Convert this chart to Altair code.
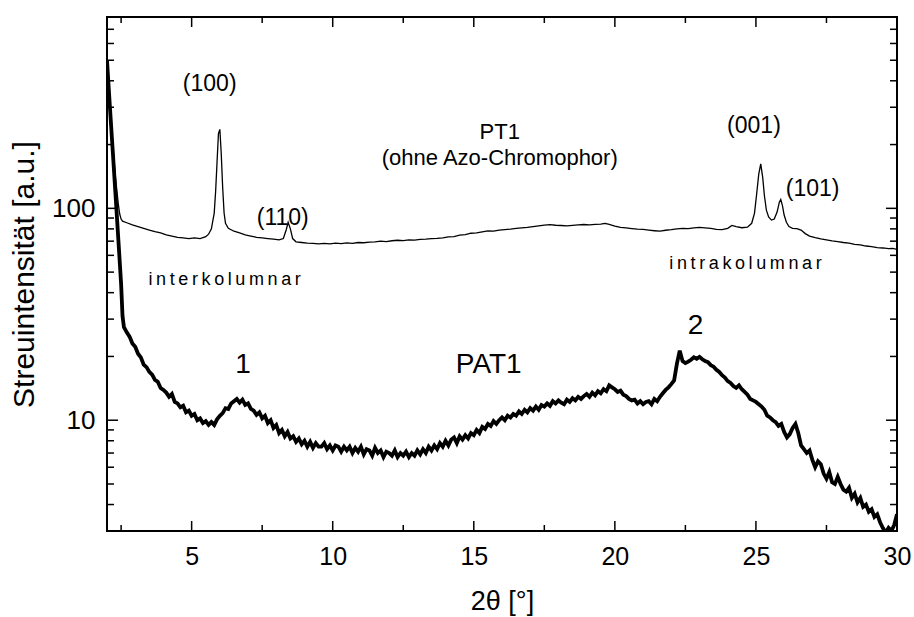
import altair as alt
import pandas as pd

# ---------------- data ----------------
# PAT1 (thick curve): steep head, then a regular 0.1 deg grid from 2.6 to 30.0
pat_head_x = [2.0, 2.1, 2.2, 2.3, 2.4, 2.5, 2.55]
pat_head_y = [500, 305, 190, 117, 72, 44, 31]
pat_grid_start = 2.6
pat_grid_step = 0.1
pat_grid_y = [
    27.5, 26.0, 24.8, 23.0, 22.2, 20.6, 19.8, 18.3, 17.8, 16.9,
    16.4, 15.5, 15.2, 14.2, 13.9, 13.5, 12.9, 13.3, 12.2, 12.0,
    11.5, 11.7, 10.9, 11.1, 10.5, 10.7, 10.0, 10.2, 9.7, 9.9,
    9.5, 9.8, 9.5, 10.1, 10.5, 10.8, 11.4, 11.3, 12.0, 12.3,
    12.6, 12.1, 12.5, 11.8, 12.0, 11.3, 11.1, 10.6, 10.9, 10.2,
    10.5, 9.7, 10.0, 9.2, 9.5, 8.7, 9.0, 8.4, 8.8, 8.2,
    8.4, 7.9, 8.2, 7.7, 8.0, 7.5, 7.9, 7.4, 7.8, 7.5,
    7.5, 7.8, 7.3, 7.6, 7.2, 7.6, 7.5, 7.1, 7.5, 7.2,
    7.5, 7.0, 7.4, 7.1, 7.5, 6.9, 7.3, 7.2, 6.8, 7.4,
    7.0, 7.2, 6.7, 7.1, 7.0, 6.8, 7.2, 6.7, 7.0, 6.8,
    7.1, 6.7, 7.0, 6.8, 7.2, 6.9, 7.3, 7.0, 7.5, 7.2,
    7.6, 7.3, 7.8, 7.5, 8.0, 7.6, 8.1, 8.3, 7.8, 8.4,
    8.1, 8.5, 8.2, 8.7, 8.5, 9.0, 8.7, 9.3, 9.1, 9.6,
    9.4, 9.9, 9.6, 10.0, 10.3, 10.0, 10.5, 10.3, 10.7, 10.5,
    11.0, 10.7, 11.2, 10.9, 11.4, 11.1, 11.6, 11.2, 11.8, 11.6,
    12.0, 11.7, 12.3, 12.0, 12.4, 12.1, 11.9, 12.5, 12.2, 12.7,
    12.4, 12.9, 12.6, 13.0, 13.3, 12.9, 13.5, 13.1, 13.7, 13.4,
    14.0, 13.7, 14.6, 14.3, 14.0, 13.6, 13.8, 13.2, 13.0, 12.6,
    12.4, 12.5, 12.0, 12.3, 11.9, 12.2, 12.3, 11.9, 12.6, 12.3,
    12.9, 13.4, 13.9, 14.3, 14.8, 15.4, 18.5, 21.3, 19.0, 18.6,
    18.9, 19.3, 19.8, 19.5, 19.9, 19.4, 19.0, 18.8, 18.2, 17.9,
    17.3, 16.9, 16.3, 15.9, 15.3, 15.0, 14.5, 14.2, 14.6, 14.0,
    13.6, 13.2, 12.6, 12.4, 12.2, 11.9, 11.6, 11.2, 10.5, 10.3,
    10.0, 9.8, 9.4, 9.6, 8.8, 8.3, 8.6, 9.2, 9.6, 8.7,
    7.6, 7.3, 7.0, 7.2, 6.5, 6.0, 6.4, 6.2, 5.6, 5.3,
    5.7, 5.1, 5.0, 5.4, 5.0, 4.7, 4.6, 4.8, 4.3, 4.5,
    4.1, 4.3, 3.9, 4.0, 3.7, 3.8, 3.5, 3.6, 3.3, 3.1,
    2.95, 3.1, 3.0, 3.2, 3.6,
]

# PT1 (thin curve)
pt1_x = [2.0, 2.1, 2.2, 2.3, 2.4, 2.45, 2.5, 2.55, 2.7, 2.9, 3.1, 3.3, 3.5, 3.7, 3.9,
         4.1, 4.3, 4.5, 4.7, 4.9, 5.1, 5.3, 5.5, 5.6, 5.7, 5.8, 5.85, 5.9, 5.95, 6.0,
         6.05, 6.1, 6.15, 6.2, 6.3, 6.5, 6.7, 6.9, 7.1, 7.3, 7.5, 7.7, 7.9, 8.1, 8.25,
         8.35, 8.42, 8.5, 8.58, 8.7, 8.9, 9.1, 9.3, 9.5, 9.7, 9.9, 10.1, 10.3, 10.5,
         10.7, 10.9, 11.1, 11.3, 11.5, 11.7, 11.9, 12.1, 12.3, 12.5, 12.7, 12.9, 13.1,
         13.3, 13.5, 13.7, 13.9, 14.1, 14.3, 14.5, 14.7, 14.9, 15.1, 15.3, 15.5, 15.7,
         15.9, 16.1, 16.3, 16.5, 16.7, 16.9, 17.1, 17.3, 17.5, 17.7, 17.9, 18.1, 18.3,
         18.5, 18.7, 18.9, 19.1, 19.3, 19.5, 19.65, 19.8, 20.0, 20.2, 20.4, 20.6, 20.8,
         21.0, 21.2, 21.4, 21.6, 21.8, 22.0, 22.2, 22.4, 22.6, 22.8, 23.0, 23.2, 23.4,
         23.6, 23.8, 24.0, 24.15, 24.3, 24.5, 24.7, 24.85, 24.95, 25.02, 25.1, 25.17,
         25.24, 25.3, 25.37, 25.45, 25.55, 25.65, 25.75, 25.83, 25.88, 25.94, 26.0,
         26.08, 26.17, 26.3, 26.45, 26.6, 26.75, 26.9, 27.1, 27.3, 27.5, 27.7, 27.9,
         28.1, 28.3, 28.5, 28.7, 28.9, 29.1, 29.3, 29.5, 29.7, 29.85, 30.0]
pt1_y = [480, 320, 205, 140, 105, 94, 89, 87, 85.5, 83.5, 82, 80.5, 79, 77.6, 76.5,
         75, 74, 73, 72.5, 72, 72.5, 72, 73.5, 75.5, 80, 95, 120, 165, 225, 236,
         180, 125, 95, 85, 80.5, 78, 76.5, 75, 74, 73, 72.5, 72, 71.5, 71, 72,
         79, 86, 80, 72, 69.5, 69, 68.5, 68.3, 68, 68.4, 68, 68.5, 68.2, 68.7,
         68.4, 69, 68.8, 69.3, 69.5, 70, 69.7, 70.3, 70.7, 70.4, 71, 70.8, 71.3,
         71.5, 71.9, 72.2, 72.6, 73.3, 73.6, 74.7, 75.2, 76.3, 76.6, 77.4, 78.2, 78.0,
         78.9, 79.4, 79.8, 80.4, 80.9, 81.3, 82.0, 82.7, 83.4, 83.8, 83.2, 83.0, 82.6,
         83.1, 83.5, 83.9, 83.6, 84.0, 84.3, 84.9, 84.0, 82.5, 81.3, 80.8, 80.2, 79.7,
         79.5, 78.9, 78.4, 78.0, 78.8, 79.3, 80.0, 80.5, 80.2, 80.8, 81.3, 80.9, 80.4,
         79.6, 79.3, 80.5, 83.0, 82.0, 81.0, 81.5, 85, 95, 115, 145, 162,
         140, 115, 98, 91, 88, 89, 96, 107, 110, 103, 93,
         86, 82, 80.5, 80.3, 79, 76, 74, 72.8, 71.8, 71, 70.2, 69.7,
         69.0, 68.5, 67.6, 67.2, 66.4, 66.0, 65.3, 65.0, 64.5, 64.7, 64.0]

# annotations
big_text = ["(100)", "(110)", "(001)", "(101)"]
big_x = [5.64, 8.23, 24.93, 27.01]
big_y = [387, 89.8, 246, 124]

pt_text = ["PT1", "(ohne Azo-Chromophor)"]
pt_x = [15.92, 15.92]
pt_y = [230, 172]

spaced_text = ["\u2009".join("interkolumnar"), "\u2009".join("intrakolumnar")]
spaced_x = [6.17, 24.63]
spaced_y = [45.9, 54.5]

pat_text = ["1", "PAT1", "2"]
pat_lx = [6.82, 15.53, 22.86]
pat_ly = [18.3, 18.3, 27.7]

# axis ticks
x_labels = [5, 10, 15, 20, 25, 30]
x_minor = [2.5, 7.5, 12.5, 17.5, 22.5, 27.5]
y_labels = [10, 100]
y_minor = [3, 4, 5, 6, 7, 8, 9, 20, 30, 40, 50, 60, 70, 80, 90, 200, 300, 400, 500, 600, 700]

# ---------------- chart ----------------
W, H = 790, 514
FONT = "Liberation Sans"

pat_x = pat_head_x + [round(pat_grid_start + pat_grid_step * i, 2) for i in range(len(pat_grid_y))]
pat_y = pat_head_y + pat_grid_y

df_pat = pd.DataFrame({"x": pat_x, "y": pat_y})
df_pt1 = pd.DataFrame({"x": pt1_x, "y": pt1_y})

xscale = alt.Scale(domain=[2, 30], nice=False, zero=False)
yscale = alt.Scale(type="log", domain=[3, 800], nice=False)

xaxis = alt.Axis(values=x_labels, ticks=False, domain=False, grid=False,
                 labelFont=FONT, labelFontSize=25, labelColor="black", labelPadding=13,
                 labelFlush=False, title="2θ [°]", titleFont=FONT, titleFontSize=27,
                 titleFontWeight="normal", titleColor="black", titlePadding=19)
yaxis = alt.Axis(values=y_labels, format="d", ticks=False, domain=False, grid=False,
                 labelFont=FONT, labelFontSize=26, labelColor="black", labelPadding=12,
                 labelFlush=False, title="Streuintensität [a.u.]", titleFont=FONT,
                 titleFontSize=30, titleFontWeight="normal", titleColor="black",
                 titlePadding=12)

X = alt.X("x:Q", scale=xscale, axis=xaxis)
Y = alt.Y("y:Q", scale=yscale, axis=yaxis)

pat_line = alt.Chart(df_pat).mark_line(color="black", strokeWidth=3.8, clip=True).encode(x=X, y=Y)
pt1_line = alt.Chart(df_pt1).mark_line(color="black", strokeWidth=1.3, clip=True).encode(x=X, y=Y)


def text_layer(texts, xs, ys, size, font=FONT):
    d = pd.DataFrame({"x": xs, "y": ys, "t": texts})
    return alt.Chart(d).mark_text(font=font, fontSize=size, color="black",
                                  align="center", baseline="middle").encode(x=X, y=Y, text="t:N")


t_big = text_layer(big_text, big_x, big_y, 23)
t_pt = text_layer(pt_text, pt_x, pt_y, 22)
t_sp = text_layer(spaced_text, spaced_x, spaced_y, 18)
t_pat = text_layer(pat_text, pat_lx, pat_ly, 28)


def xticks(vals, length):
    d = pd.DataFrame({"x": vals})
    bottom = alt.Chart(d).mark_rule(color="black", strokeWidth=1.5).encode(
        x=X, y=alt.value(H), y2=alt.value(H - length))
    top = alt.Chart(d).mark_rule(color="black", strokeWidth=1.5).encode(
        x=X, y=alt.value(0), y2=alt.value(length))
    return [bottom, top]


def yticks(vals, length):
    d = pd.DataFrame({"y": vals})
    left = alt.Chart(d).mark_rule(color="black", strokeWidth=1.5).encode(
        y=Y, x=alt.value(0), x2=alt.value(length))
    right = alt.Chart(d).mark_rule(color="black", strokeWidth=1.5).encode(
        y=Y, x=alt.value(W), x2=alt.value(W - length))
    return [left, right]


layers = [pt1_line, pat_line, t_big, t_pt, t_sp, t_pat]
layers += xticks(x_labels, 10) + xticks(x_minor, 6)
layers += yticks(y_labels, 11) + yticks(y_minor, 7)

chart = alt.layer(*layers).properties(
    width=W, height=H,
    padding={"left": 107, "top": 17, "right": 17, "bottom": 86},
    autosize=alt.AutoSizeParams(type="none"),
    background="white",
).configure_view(stroke="black", strokeWidth=2)

chart.save("out.html", embed_options={"renderer": "svg", "actions": False})
